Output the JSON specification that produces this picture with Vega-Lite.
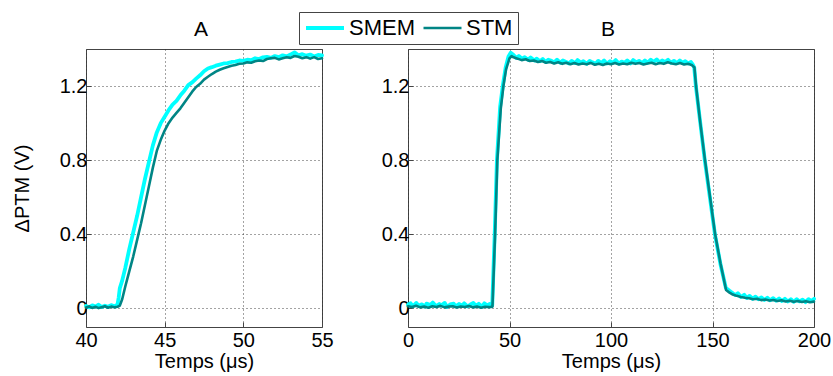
{
"$schema": "https://vega.github.io/schema/vega-lite/v6.json",
"background": "white",
"padding": {"left": 11, "top": 11, "right": 9, "bottom": 4},
"spacing": 86,
"bounds": "flush",
"datasets": {
"A": [
{"s":"SMEM","t":40.0,"v":0.014},{"s":"SMEM","t":40.2,"v":0.006},{"s":"SMEM","t":40.4,"v":0.017},{"s":"SMEM","t":40.6,"v":0.01},{"s":"SMEM","t":40.8,"v":0.02},{"s":"SMEM","t":41.0,"v":0.008},{"s":"SMEM","t":41.2,"v":0.015},{"s":"SMEM","t":41.4,"v":0.009},{"s":"SMEM","t":41.6,"v":0.018},{"s":"SMEM","t":41.8,"v":0.012},{"s":"SMEM","t":42.0,"v":0.02},{"s":"SMEM","t":42.08,"v":0.06},{"s":"SMEM","t":42.15,"v":0.11},{"s":"SMEM","t":42.3,"v":0.15},{"s":"SMEM","t":42.5,"v":0.22},{"s":"SMEM","t":42.75,"v":0.32},{"s":"SMEM","t":43.0,"v":0.41},{"s":"SMEM","t":43.25,"v":0.5},{"s":"SMEM","t":43.5,"v":0.6},{"s":"SMEM","t":43.75,"v":0.7},{"s":"SMEM","t":44.0,"v":0.79},{"s":"SMEM","t":44.25,"v":0.88},{"s":"SMEM","t":44.5,"v":0.95},{"s":"SMEM","t":44.75,"v":1.0},{"s":"SMEM","t":45.0,"v":1.035},{"s":"SMEM","t":45.25,"v":1.07},{"s":"SMEM","t":45.5,"v":1.1},{"s":"SMEM","t":45.75,"v":1.12},{"s":"SMEM","t":46.0,"v":1.15},{"s":"SMEM","t":46.25,"v":1.175},{"s":"SMEM","t":46.5,"v":1.205},{"s":"SMEM","t":46.75,"v":1.22},{"s":"SMEM","t":47.0,"v":1.24},{"s":"SMEM","t":47.25,"v":1.258},{"s":"SMEM","t":47.5,"v":1.28},{"s":"SMEM","t":47.75,"v":1.295},{"s":"SMEM","t":48.0,"v":1.302},{"s":"SMEM","t":48.25,"v":1.31},{"s":"SMEM","t":48.5,"v":1.316},{"s":"SMEM","t":48.75,"v":1.322},{"s":"SMEM","t":49.0,"v":1.324},{"s":"SMEM","t":49.25,"v":1.33},{"s":"SMEM","t":49.5,"v":1.332},{"s":"SMEM","t":49.75,"v":1.338},{"s":"SMEM","t":50.0,"v":1.336},{"s":"SMEM","t":50.25,"v":1.342},{"s":"SMEM","t":50.5,"v":1.34},{"s":"SMEM","t":50.75,"v":1.35},{"s":"SMEM","t":51.0,"v":1.346},{"s":"SMEM","t":51.25,"v":1.355},{"s":"SMEM","t":51.5,"v":1.358},{"s":"SMEM","t":51.75,"v":1.352},{"s":"SMEM","t":52.0,"v":1.362},{"s":"SMEM","t":52.25,"v":1.356},{"s":"SMEM","t":52.5,"v":1.366},{"s":"SMEM","t":52.75,"v":1.36},{"s":"SMEM","t":53.0,"v":1.37},{"s":"SMEM","t":53.25,"v":1.382},{"s":"SMEM","t":53.5,"v":1.366},{"s":"SMEM","t":53.75,"v":1.372},{"s":"SMEM","t":54.0,"v":1.364},{"s":"SMEM","t":54.25,"v":1.37},{"s":"SMEM","t":54.5,"v":1.36},{"s":"SMEM","t":54.75,"v":1.368},{"s":"SMEM","t":55.0,"v":1.365},
{"s":"STM","t":40.0,"v":0.005},{"s":"STM","t":40.2,"v":0.011},{"s":"STM","t":40.4,"v":0.003},{"s":"STM","t":40.6,"v":0.009},{"s":"STM","t":40.8,"v":0.002},{"s":"STM","t":41.0,"v":0.007},{"s":"STM","t":41.2,"v":0.012},{"s":"STM","t":41.4,"v":0.004},{"s":"STM","t":41.6,"v":0.01},{"s":"STM","t":41.8,"v":0.006},{"s":"STM","t":42.0,"v":0.009},{"s":"STM","t":42.15,"v":0.016},{"s":"STM","t":42.3,"v":0.05},{"s":"STM","t":42.5,"v":0.12},{"s":"STM","t":42.75,"v":0.2},{"s":"STM","t":43.0,"v":0.28},{"s":"STM","t":43.25,"v":0.37},{"s":"STM","t":43.5,"v":0.46},{"s":"STM","t":43.75,"v":0.56},{"s":"STM","t":44.0,"v":0.66},{"s":"STM","t":44.25,"v":0.76},{"s":"STM","t":44.5,"v":0.85},{"s":"STM","t":44.75,"v":0.91},{"s":"STM","t":45.0,"v":0.96},{"s":"STM","t":45.25,"v":1.0},{"s":"STM","t":45.5,"v":1.03},{"s":"STM","t":45.75,"v":1.055},{"s":"STM","t":46.0,"v":1.08},{"s":"STM","t":46.25,"v":1.11},{"s":"STM","t":46.5,"v":1.14},{"s":"STM","t":46.75,"v":1.17},{"s":"STM","t":47.0,"v":1.195},{"s":"STM","t":47.25,"v":1.212},{"s":"STM","t":47.5,"v":1.235},{"s":"STM","t":47.75,"v":1.25},{"s":"STM","t":48.0,"v":1.265},{"s":"STM","t":48.25,"v":1.278},{"s":"STM","t":48.5,"v":1.288},{"s":"STM","t":48.75,"v":1.296},{"s":"STM","t":49.0,"v":1.303},{"s":"STM","t":49.25,"v":1.31},{"s":"STM","t":49.5,"v":1.314},{"s":"STM","t":49.75,"v":1.32},{"s":"STM","t":50.0,"v":1.322},{"s":"STM","t":50.25,"v":1.328},{"s":"STM","t":50.5,"v":1.326},{"s":"STM","t":50.75,"v":1.334},{"s":"STM","t":51.0,"v":1.338},{"s":"STM","t":51.25,"v":1.335},{"s":"STM","t":51.5,"v":1.346},{"s":"STM","t":51.75,"v":1.35},{"s":"STM","t":52.0,"v":1.352},{"s":"STM","t":52.25,"v":1.344},{"s":"STM","t":52.5,"v":1.35},{"s":"STM","t":52.75,"v":1.356},{"s":"STM","t":53.0,"v":1.352},{"s":"STM","t":53.25,"v":1.362},{"s":"STM","t":53.5,"v":1.358},{"s":"STM","t":53.75,"v":1.35},{"s":"STM","t":54.0,"v":1.356},{"s":"STM","t":54.25,"v":1.348},{"s":"STM","t":54.5,"v":1.356},{"s":"STM","t":54.75,"v":1.346},{"s":"STM","t":55.0,"v":1.35}
],
"B": [
{"s":"SMEM","t":0,"v":0.02},{"s":"SMEM","t":1.3,"v":0.028},{"s":"SMEM","t":2.4,"v":0.012},{"s":"SMEM","t":4.1,"v":0.03},{"s":"SMEM","t":5.2,"v":0.015},{"s":"SMEM","t":6.8,"v":0.022},{"s":"SMEM","t":8.3,"v":0.01},{"s":"SMEM","t":9.1,"v":0.026},{"s":"SMEM","t":11,"v":0.018},{"s":"SMEM","t":12.2,"v":0.032},{"s":"SMEM","t":13.9,"v":0.012},{"s":"SMEM","t":15.4,"v":0.024},{"s":"SMEM","t":16.3,"v":0.016},{"s":"SMEM","t":18.1,"v":0.03},{"s":"SMEM","t":19.2,"v":0.008},{"s":"SMEM","t":20.8,"v":0.022},{"s":"SMEM","t":22.5,"v":0.026},{"s":"SMEM","t":23.4,"v":0.012},{"s":"SMEM","t":25.1,"v":0.024},{"s":"SMEM","t":26.6,"v":0.015},{"s":"SMEM","t":27.7,"v":0.028},{"s":"SMEM","t":29.3,"v":0.011},{"s":"SMEM","t":30.6,"v":0.02},{"s":"SMEM","t":32.2,"v":0.03},{"s":"SMEM","t":33.5,"v":0.014},{"s":"SMEM","t":34.9,"v":0.025},{"s":"SMEM","t":36.4,"v":0.01},{"s":"SMEM","t":37.6,"v":0.028},{"s":"SMEM","t":39.0,"v":0.016},{"s":"SMEM","t":40.3,"v":0.024},{"s":"SMEM","t":41.5,"v":0.018},{"s":"SMEM","t":42.7,"v":0.4},{"s":"SMEM","t":43.8,"v":0.8},{"s":"SMEM","t":45.4,"v":1.09},{"s":"SMEM","t":46.8,"v":1.21},{"s":"SMEM","t":48.1,"v":1.3},{"s":"SMEM","t":49.5,"v":1.36},{"s":"SMEM","t":50.6,"v":1.38},{"s":"SMEM","t":52,"v":1.368},{"s":"SMEM","t":53.3,"v":1.352},{"s":"SMEM","t":54.6,"v":1.362},{"s":"SMEM","t":56.2,"v":1.348},{"s":"SMEM","t":57.5,"v":1.356},{"s":"SMEM","t":59.1,"v":1.342},{"s":"SMEM","t":60.4,"v":1.354},{"s":"SMEM","t":62.2,"v":1.338},{"s":"SMEM","t":63.3,"v":1.348},{"s":"SMEM","t":65,"v":1.334},{"s":"SMEM","t":66.4,"v":1.346},{"s":"SMEM","t":67.8,"v":1.33},{"s":"SMEM","t":69.1,"v":1.342},{"s":"SMEM","t":70.7,"v":1.336},{"s":"SMEM","t":72,"v":1.328},{"s":"SMEM","t":73.4,"v":1.342},{"s":"SMEM","t":75,"v":1.326},{"s":"SMEM","t":76.3,"v":1.338},{"s":"SMEM","t":77.9,"v":1.33},{"s":"SMEM","t":79.2,"v":1.322},{"s":"SMEM","t":80.6,"v":1.336},{"s":"SMEM","t":82.3,"v":1.324},{"s":"SMEM","t":83.5,"v":1.34},{"s":"SMEM","t":85.2,"v":1.326},{"s":"SMEM","t":86.4,"v":1.334},{"s":"SMEM","t":88,"v":1.32},{"s":"SMEM","t":89.5,"v":1.336},{"s":"SMEM","t":90.8,"v":1.328},{"s":"SMEM","t":92.4,"v":1.32},{"s":"SMEM","t":93.7,"v":1.336},{"s":"SMEM","t":95.2,"v":1.324},{"s":"SMEM","t":96.6,"v":1.338},{"s":"SMEM","t":98,"v":1.322},{"s":"SMEM","t":99.5,"v":1.334},{"s":"SMEM","t":101,"v":1.326},{"s":"SMEM","t":102.3,"v":1.34},{"s":"SMEM","t":103.9,"v":1.322},{"s":"SMEM","t":105.2,"v":1.332},{"s":"SMEM","t":106.7,"v":1.326},{"s":"SMEM","t":108,"v":1.338},{"s":"SMEM","t":109.6,"v":1.322},{"s":"SMEM","t":110.9,"v":1.34},{"s":"SMEM","t":112.4,"v":1.328},{"s":"SMEM","t":113.8,"v":1.336},{"s":"SMEM","t":115.3,"v":1.324},{"s":"SMEM","t":116.7,"v":1.338},{"s":"SMEM","t":118,"v":1.326},{"s":"SMEM","t":119.6,"v":1.342},{"s":"SMEM","t":120.9,"v":1.33},{"s":"SMEM","t":122.5,"v":1.344},{"s":"SMEM","t":123.8,"v":1.328},{"s":"SMEM","t":125.2,"v":1.338},{"s":"SMEM","t":126.7,"v":1.33},{"s":"SMEM","t":128.1,"v":1.342},{"s":"SMEM","t":129.5,"v":1.326},{"s":"SMEM","t":131,"v":1.336},{"s":"SMEM","t":132.4,"v":1.324},{"s":"SMEM","t":133.9,"v":1.338},{"s":"SMEM","t":135.3,"v":1.326},{"s":"SMEM","t":136.6,"v":1.334},{"s":"SMEM","t":138.1,"v":1.322},{"s":"SMEM","t":139.4,"v":1.33},{"s":"SMEM","t":140.3,"v":1.316},{"s":"SMEM","t":141,"v":1.3},{"s":"SMEM","t":141.8,"v":1.2},{"s":"SMEM","t":144,"v":1.0},{"s":"SMEM","t":146.2,"v":0.8},{"s":"SMEM","t":148.7,"v":0.6},{"s":"SMEM","t":151.2,"v":0.4},{"s":"SMEM","t":153.9,"v":0.24},{"s":"SMEM","t":156.6,"v":0.11},{"s":"SMEM","t":158.4,"v":0.095},{"s":"SMEM","t":159.7,"v":0.085},{"s":"SMEM","t":161.2,"v":0.072},{"s":"SMEM","t":162.5,"v":0.082},{"s":"SMEM","t":164,"v":0.062},{"s":"SMEM","t":165.6,"v":0.074},{"s":"SMEM","t":166.9,"v":0.056},{"s":"SMEM","t":168.3,"v":0.068},{"s":"SMEM","t":169.8,"v":0.052},{"s":"SMEM","t":171.2,"v":0.064},{"s":"SMEM","t":172.6,"v":0.05},{"s":"SMEM","t":174.1,"v":0.06},{"s":"SMEM","t":175.5,"v":0.046},{"s":"SMEM","t":177,"v":0.058},{"s":"SMEM","t":178.4,"v":0.044},{"s":"SMEM","t":179.9,"v":0.056},{"s":"SMEM","t":181.3,"v":0.042},{"s":"SMEM","t":182.8,"v":0.054},{"s":"SMEM","t":184.2,"v":0.04},{"s":"SMEM","t":185.7,"v":0.052},{"s":"SMEM","t":187.1,"v":0.038},{"s":"SMEM","t":188.6,"v":0.05},{"s":"SMEM","t":190,"v":0.036},{"s":"SMEM","t":191.5,"v":0.05},{"s":"SMEM","t":192.9,"v":0.038},{"s":"SMEM","t":194.4,"v":0.048},{"s":"SMEM","t":195.8,"v":0.034},{"s":"SMEM","t":197.3,"v":0.05},{"s":"SMEM","t":198.7,"v":0.04},{"s":"SMEM","t":200,"v":0.052},
{"s":"STM","t":0,"v":0.012},{"s":"STM","t":2,"v":0.008},{"s":"STM","t":4,"v":0.015},{"s":"STM","t":6,"v":0.006},{"s":"STM","t":8,"v":0.01},{"s":"STM","t":10,"v":0.004},{"s":"STM","t":12,"v":0.012},{"s":"STM","t":14,"v":0.008},{"s":"STM","t":16,"v":0.014},{"s":"STM","t":18,"v":0.006},{"s":"STM","t":20,"v":0.01},{"s":"STM","t":22,"v":0.012},{"s":"STM","t":24,"v":0.005},{"s":"STM","t":26,"v":0.011},{"s":"STM","t":28,"v":0.008},{"s":"STM","t":30,"v":0.013},{"s":"STM","t":32,"v":0.006},{"s":"STM","t":34,"v":0.01},{"s":"STM","t":36,"v":0.004},{"s":"STM","t":38,"v":0.009},{"s":"STM","t":40,"v":0.007},{"s":"STM","t":41.6,"v":0.01},{"s":"STM","t":42.9,"v":0.4},{"s":"STM","t":44.0,"v":0.8},{"s":"STM","t":45.7,"v":1.078},{"s":"STM","t":47.0,"v":1.2},{"s":"STM","t":48.3,"v":1.29},{"s":"STM","t":50,"v":1.35},{"s":"STM","t":51,"v":1.362},{"s":"STM","t":52,"v":1.355},{"s":"STM","t":54,"v":1.348},{"s":"STM","t":56,"v":1.34},{"s":"STM","t":58,"v":1.345},{"s":"STM","t":60,"v":1.335},{"s":"STM","t":62,"v":1.338},{"s":"STM","t":64,"v":1.33},{"s":"STM","t":66,"v":1.335},{"s":"STM","t":68,"v":1.326},{"s":"STM","t":70,"v":1.33},{"s":"STM","t":72,"v":1.322},{"s":"STM","t":74,"v":1.328},{"s":"STM","t":76,"v":1.32},{"s":"STM","t":78,"v":1.326},{"s":"STM","t":80,"v":1.318},{"s":"STM","t":82,"v":1.324},{"s":"STM","t":84,"v":1.316},{"s":"STM","t":86,"v":1.322},{"s":"STM","t":88,"v":1.318},{"s":"STM","t":90,"v":1.325},{"s":"STM","t":92,"v":1.315},{"s":"STM","t":94,"v":1.32},{"s":"STM","t":96,"v":1.314},{"s":"STM","t":98,"v":1.322},{"s":"STM","t":100,"v":1.318},{"s":"STM","t":102,"v":1.324},{"s":"STM","t":104,"v":1.316},{"s":"STM","t":106,"v":1.322},{"s":"STM","t":108,"v":1.318},{"s":"STM","t":110,"v":1.326},{"s":"STM","t":112,"v":1.32},{"s":"STM","t":114,"v":1.324},{"s":"STM","t":116,"v":1.316},{"s":"STM","t":118,"v":1.322},{"s":"STM","t":120,"v":1.326},{"s":"STM","t":122,"v":1.318},{"s":"STM","t":124,"v":1.324},{"s":"STM","t":126,"v":1.32},{"s":"STM","t":128,"v":1.328},{"s":"STM","t":130,"v":1.322},{"s":"STM","t":132,"v":1.318},{"s":"STM","t":134,"v":1.324},{"s":"STM","t":136,"v":1.316},{"s":"STM","t":138,"v":1.32},{"s":"STM","t":140,"v":1.312},{"s":"STM","t":141.1,"v":1.3},{"s":"STM","t":141.9,"v":1.2},{"s":"STM","t":144,"v":1.0},{"s":"STM","t":146.3,"v":0.8},{"s":"STM","t":148.8,"v":0.6},{"s":"STM","t":151.3,"v":0.4},{"s":"STM","t":154,"v":0.24},{"s":"STM","t":156.7,"v":0.1},{"s":"STM","t":158.4,"v":0.085},{"s":"STM","t":160,"v":0.075},{"s":"STM","t":162,"v":0.068},{"s":"STM","t":164,"v":0.062},{"s":"STM","t":166,"v":0.058},{"s":"STM","t":168,"v":0.055},{"s":"STM","t":170,"v":0.05},{"s":"STM","t":172,"v":0.052},{"s":"STM","t":174,"v":0.045},{"s":"STM","t":176,"v":0.048},{"s":"STM","t":178,"v":0.043},{"s":"STM","t":180,"v":0.046},{"s":"STM","t":182,"v":0.04},{"s":"STM","t":184,"v":0.044},{"s":"STM","t":186,"v":0.038},{"s":"STM","t":188,"v":0.042},{"s":"STM","t":190,"v":0.036},{"s":"STM","t":192,"v":0.04},{"s":"STM","t":194,"v":0.035},{"s":"STM","t":196,"v":0.039},{"s":"STM","t":198,"v":0.034},{"s":"STM","t":200,"v":0.037}
]
},
"hconcat": [
{
"width": 236, "height": 278,
"title": {"text": "A"},
"data": {"name": "A"},
"mark": {"type": "line", "strokeJoin": "round", "strokeCap": "round"},
"encoding": {
"x": {"field": "t", "type": "quantitative", "scale": {"domain": [40, 55], "nice": false, "zero": false}, "axis": {"values": [40, 45, 50, 55], "title": "Temps (μs)"}},
"y": {"field": "v", "type": "quantitative", "scale": {"domain": [-0.1, 1.4], "nice": false, "zero": false}, "axis": {"values": [0, 0.4, 0.8, 1.2], "labelExpr": "datum.value == 0 ? '0' : format(datum.value, '.1f')", "title": "ΔPTM (V)", "titleX": -64, "titleY": 139, "titleBaseline": "middle", "titleAlign": "center", "titleAngle": -90}},
"color": {"field": "s", "type": "nominal", "scale": {"domain": ["SMEM", "STM"], "range": ["#00ffff", "#008585"]}, "legend": {"title": null, "orient": "none", "legendX": 213, "legendY": -37, "direction": "horizontal"}},
"strokeWidth": {"field": "s", "type": "nominal", "scale": {"domain": ["SMEM", "STM"], "range": [3.8, 2.6]}, "legend": null}
}
},
{
"width": 406, "height": 278,
"title": {"text": "B"},
"data": {"name": "B"},
"mark": {"type": "line", "strokeJoin": "round", "strokeCap": "round"},
"encoding": {
"x": {"field": "t", "type": "quantitative", "scale": {"domain": [0, 200], "nice": false, "zero": false}, "axis": {"values": [0, 50, 100, 150, 200], "title": "Temps (μs)"}},
"y": {"field": "v", "type": "quantitative", "scale": {"domain": [-0.1, 1.4], "nice": false, "zero": false}, "axis": {"values": [0, 0.4, 0.8, 1.2], "labelExpr": "datum.value == 0 ? '0' : format(datum.value, '.1f')", "title": null}},
"color": {"field": "s", "type": "nominal", "scale": {"domain": ["SMEM", "STM"], "range": ["#00ffff", "#008585"]}, "legend": {"title": null, "orient": "none", "legendX": 213, "legendY": -37, "direction": "horizontal"}},
"strokeWidth": {"field": "s", "type": "nominal", "scale": {"domain": ["SMEM", "STM"], "range": [3.8, 2.6]}, "legend": null}
}
}
],
"config": {
"font": "Liberation Sans",
"view": {"stroke": "#444", "strokeWidth": 1},
"axis": {"labelFont": "Liberation Sans", "labelFontSize": 20, "labelColor": "#000", "labelFlush": false, "labelOverlap": false, "titleFont": "Liberation Sans", "titleFontSize": 20, "titleFontWeight": "normal", "titleColor": "#000", "grid": true, "gridColor": "#333", "gridDash": [1, 3], "gridOpacity": 0.9, "domain": false, "ticks": true, "tickSize": -5, "tickColor": "#444", "labelPadding": 4},
"axisX": {"labelPadding": 8, "titleBaseline": "alphabetic", "titleY": 40},
"title": {"font": "Liberation Sans", "fontSize": 21, "fontWeight": "normal", "color": "#000", "frame": "group", "anchor": "middle", "baseline": "alphabetic", "offset": 9, "dx": -3},
"legend": {"labelFont": "Liberation Sans", "labelFontSize": 22, "labelColor": "#000", "symbolType": "stroke", "symbolSize": 1444, "symbolStrokeWidth": 3, "clipHeight": 22, "labelOffset": 3, "columnPadding": 7, "padding": 5, "strokeColor": "#444", "fillColor": "white", "cornerRadius": 0}
}
}
